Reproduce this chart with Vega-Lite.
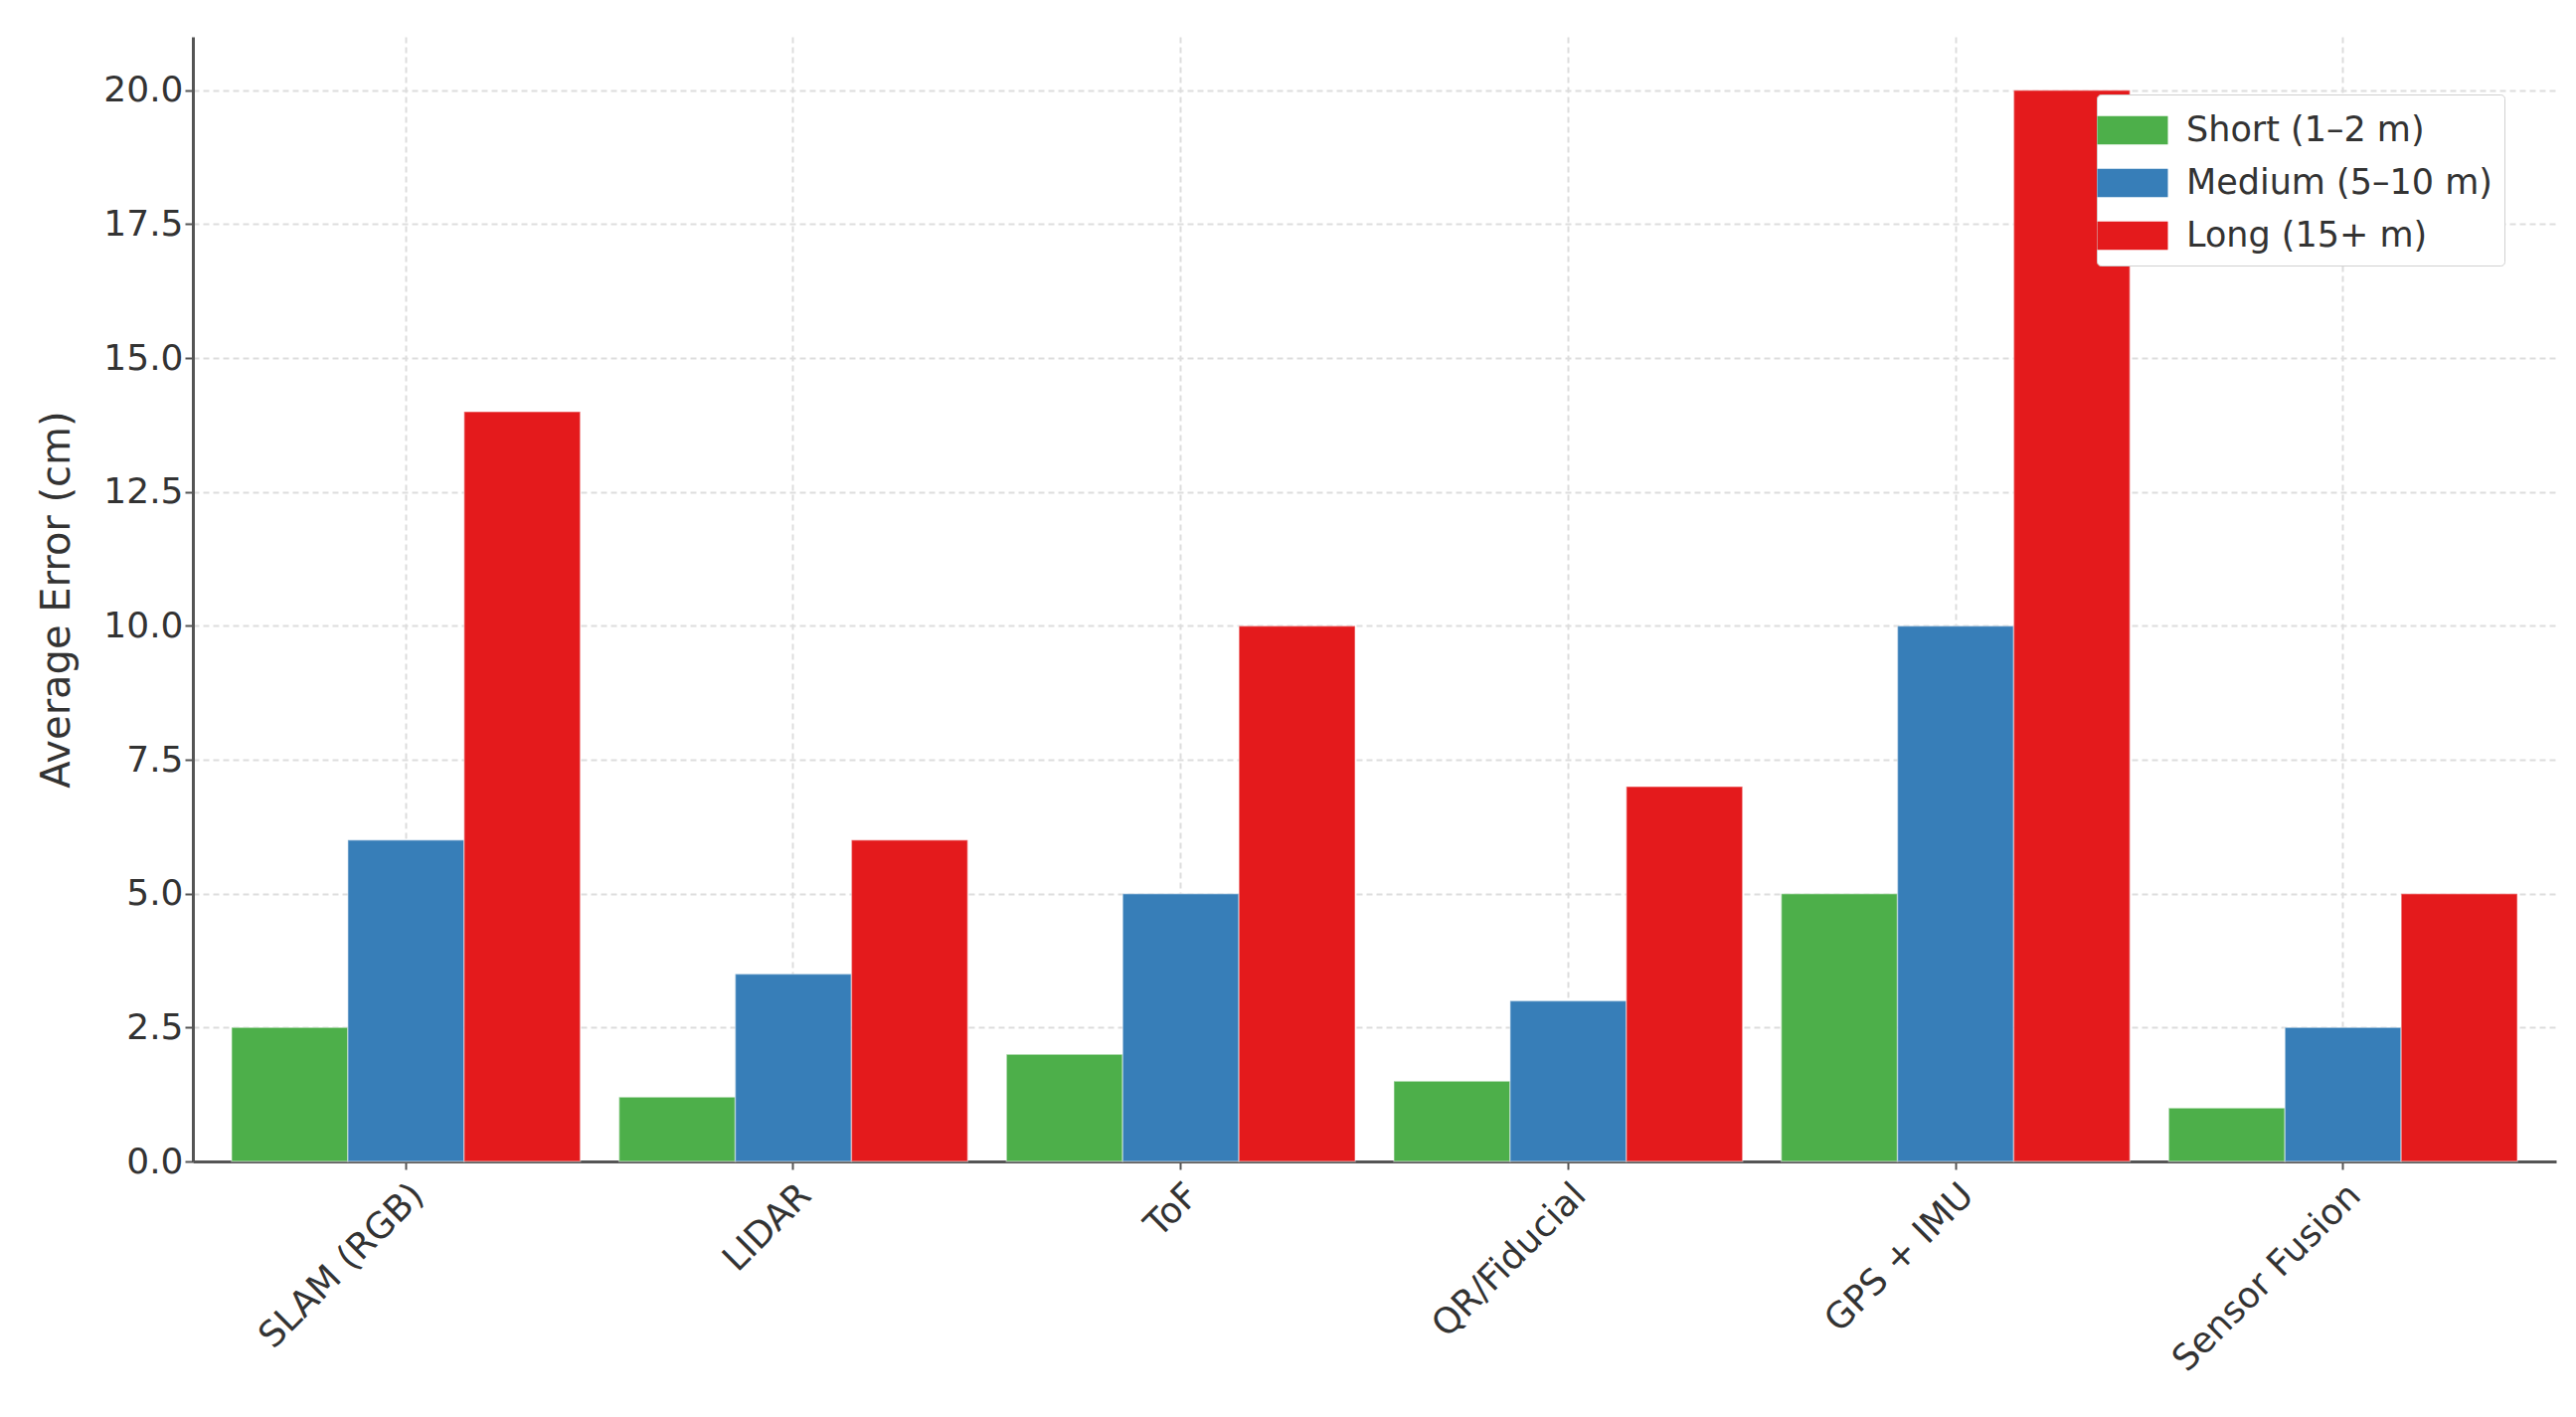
{
  "$schema": "https://vega.github.io/schema/vega-lite/v6.json",
  "description": "Average localisation error by method and range",
  "width": 2377,
  "height": 1131,
  "autosize": {"type": "none"},
  "padding": {"left": 194, "top": 37, "right": 20, "bottom": 257},
  "background": "white",
  "data": {
    "values": [
      {"method": "SLAM (RGB)", "range": "Short (1–2 m)", "error": 2.5},
      {"method": "SLAM (RGB)", "range": "Medium (5–10 m)", "error": 6},
      {"method": "SLAM (RGB)", "range": "Long (15+ m)", "error": 14},
      {"method": "LIDAR", "range": "Short (1–2 m)", "error": 1.2},
      {"method": "LIDAR", "range": "Medium (5–10 m)", "error": 3.5},
      {"method": "LIDAR", "range": "Long (15+ m)", "error": 6},
      {"method": "ToF", "range": "Short (1–2 m)", "error": 2},
      {"method": "ToF", "range": "Medium (5–10 m)", "error": 5},
      {"method": "ToF", "range": "Long (15+ m)", "error": 10},
      {"method": "QR/Fiducial", "range": "Short (1–2 m)", "error": 1.5},
      {"method": "QR/Fiducial", "range": "Medium (5–10 m)", "error": 3},
      {"method": "QR/Fiducial", "range": "Long (15+ m)", "error": 7},
      {"method": "GPS + IMU", "range": "Short (1–2 m)", "error": 5},
      {"method": "GPS + IMU", "range": "Medium (5–10 m)", "error": 10},
      {"method": "GPS + IMU", "range": "Long (15+ m)", "error": 20},
      {"method": "Sensor Fusion", "range": "Short (1–2 m)", "error": 1},
      {"method": "Sensor Fusion", "range": "Medium (5–10 m)", "error": 2.5},
      {"method": "Sensor Fusion", "range": "Long (15+ m)", "error": 5}
    ]
  },
  "mark": {"type": "bar", "stroke": "white", "strokeOpacity": 0.4, "strokeWidth": 1.5},
  "encoding": {
    "x": {
      "field": "method",
      "type": "nominal",
      "sort": null,
      "title": null,
      "scale": {"paddingInner": 0.1, "paddingOuter": 0.1},
      "axis": {
        "labelAngle": -45,
        "labelAlign": "right",
        "labelBaseline": "top",
        "labelFontSize": 36,
        "labelLimit": 0,
        "labelPadding": 8,
        "bandPosition": 0.5,
        "grid": true
      }
    },
    "xOffset": {
      "field": "range",
      "type": "nominal",
      "sort": ["Short (1–2 m)", "Medium (5–10 m)", "Long (15+ m)"],
      "scale": {"paddingInner": 0, "paddingOuter": 0}
    },
    "y": {
      "field": "error",
      "type": "quantitative",
      "title": "Average Error (cm)",
      "scale": {"domain": [0, 21], "nice": false},
      "axis": {
        "values": [0, 2.5, 5, 7.5, 10, 12.5, 15, 17.5, 20],
        "format": ".1f",
        "labelFontSize": 36,
        "titleFontSize": 40,
        "titleFontWeight": "normal",
        "titlePadding": 26,
        "grid": true
      }
    },
    "color": {
      "field": "range",
      "type": "nominal",
      "title": null,
      "scale": {
        "domain": ["Short (1–2 m)", "Medium (5–10 m)", "Long (15+ m)"],
        "range": ["#4daf4a", "#377eb8", "#e41a1c"]
      },
      "legend": {
        "orient": "none",
        "legendX": 1915,
        "legendY": 58,
        "padding": 12,
        "strokeColor": "#d0d0d0",
        "fillColor": "white",
        "cornerRadius": 4,
        "symbolType": "M-1.5,-0.6H1.5V0.6H-1.5Z",
        "symbolSize": 2240,
        "symbolStrokeWidth": 0,
        "symbolOpacity": 1,
        "labelFontSize": 35,
        "labelLimit": 0,
        "labelColor": "#333333",
        "labelOffset": 30,
        "rowPadding": 11
      }
    }
  },
  "config": {
    "font": "DejaVu Sans",
    "view": {"stroke": null},
    "axis": {
      "domainColor": "#555555",
      "domainWidth": 3,
      "tickColor": "#555555",
      "tickSize": 8,
      "tickWidth": 2,
      "labelColor": "#333333",
      "titleColor": "#333333",
      "gridColor": "#dddddd",
      "gridDash": [6, 4],
      "gridWidth": 2
    }
  }
}
